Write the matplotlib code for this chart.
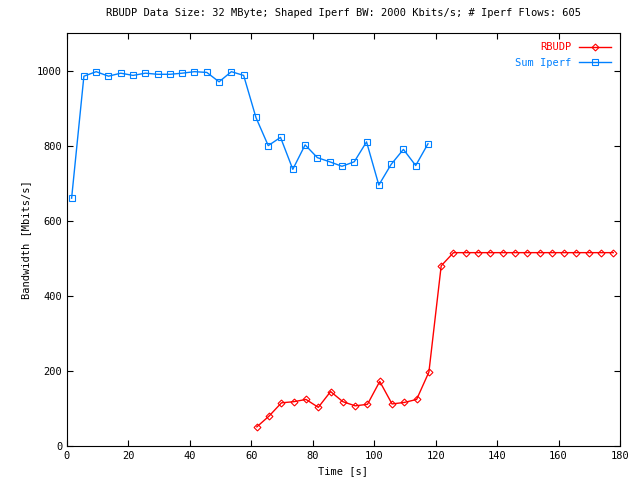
import matplotlib
matplotlib.use("Agg")
import matplotlib.pyplot as plt

blue_x = [1.5 + 4*i for i in range(30)]
blue_y = [660, 985, 997, 985, 993, 987, 993, 990, 990, 993, 997, 995, 970, 997, 987,
          875, 800, 822, 737, 802, 768, 757, 745, 757, 810, 695, 750, 790, 747, 805]
red_x = [61.8 + 4*i for i in range(30)]
red_y = [51, 80, 115, 118, 124, 103, 145, 118, 107, 111, 172, 112, 116, 124, 197, 480] + [515]*14

plt.rcParams['font.family'] = 'DejaVu Sans Mono'
plt.rcParams['font.size'] = 7.5
fig = plt.figure(figsize=(6.4, 4.8), dpi=100)
ax = fig.add_axes([67/640, 1-446/480, (620-67)/640, (446-33)/480])
ax.plot(red_x, red_y, color='#ff0000', lw=1, marker='D', ms=3.5, mfc='none', mew=0.8, label='RBUDP')
ax.plot(blue_x, blue_y, color='#0080ff', lw=1, marker='s', ms=5, mfc='none', mew=0.8, label='Sum Iperf')
ax.set_xlim(0, 180)
ax.set_ylim(0, 1100)
ax.set_xticks(range(0, 181, 20))
ax.set_yticks(range(0, 1001, 200))
ax.tick_params(direction='in', top=True, right=True, length=4)
ax.set_xlabel('Time [s]')
ax.set_ylabel('Bandwidth [Mbits/s]')
ax.set_title('RBUDP Data Size: 32 MByte; Shaped Iperf BW: 2000 Kbits/s; # Iperf Flows: 605', fontsize=7.5, pad=12)
leg = ax.legend(loc='upper right', frameon=False, markerfirst=False, handlelength=3)
for t, c in zip(leg.get_texts(), ['#ff0000', '#0080ff']):
    t.set_color(c)
fig.savefig('out.png', dpi=100)
